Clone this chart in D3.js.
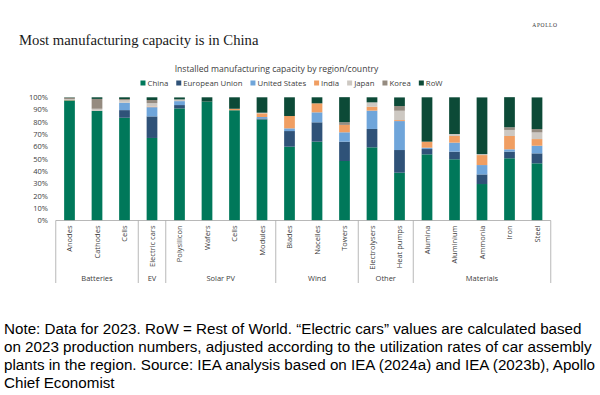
<!DOCTYPE html>
<html>
<head>
<meta charset="utf-8">
<script src="https://cdn.jsdelivr.net/npm/d3@7/dist/d3.min.js"></script>
<style>
  body { margin: 0; background: #fff; }
  svg { display: block; }
  .small { font-family: "Open Sans", "Noto Sans", sans-serif; fill: #404040; }
</style>
</head>
<body>
<div id="chart"></div>
<script>
// categories and groups
const categories = ['Anodes', 'Cathodes', 'Cells', 'Electric cars', 'Polysilicon', 'Wafers', 'Cells', 'Modules',
  'Blades', 'Nacelles', 'Towers', 'Electrolysers', 'Heat pumps', 'Alumina', 'Aluminium', 'Ammonia', 'Iron', 'Steel'];
const groupNames = ['Batteries', 'EV', 'Solar PV', 'Wind', 'Other', 'Materials'];
const groupSizes = [3, 1, 4, 3, 2, 5];

const seriesNames = ['China', 'European Union', 'United States', 'India', 'Japan', 'Korea', 'RoW'];
const seriesColors = ['#00785a', '#2f5278', '#6fa5da', '#f09e62', '#cdc8c2', '#958b80', '#0c4a37'];

// share of capacity, %
const china = [97.5, 89, 83.4, 67, 91, 96.5, 89.5, 82, 59.9, 64, 48.3, 59.4, 38.8, 53.7, 49.7, 29.6, 50.5, 46.4];
const eu    = [0, 0, 6.2, 17.5, 2.7, 0, 0, 0.8, 12.7, 15.7, 15.7, 14.9, 18.4, 4.3, 6.2, 7.8, 5.4, 8.1];
const us    = [0, 0, 6, 7.5, 3.2, 0, 0, 1.2, 2.2, 8.1, 7.6, 14.9, 23.5, 1.1, 7.3, 7.6, 1.9, 6.2];
const india = [0.3, 0, 0, 0.5, 0, 0, 1.2, 3, 10, 7.3, 6, 3.2, 0.8, 4.9, 5.4, 8.1, 10.8, 5.4];
const japan = [0.7, 1.7, 2, 2.8, 1.4, 0, 0, 0.5, 0, 0, 0, 3.5, 7.6, 0, 1.6, 0.8, 4.9, 5.4];
const korea = [1.2, 8, 1, 2.5, 0, 0, 0, 0, 0, 0, 2.2, 0, 3.8, 0, 0, 0, 2.2, 2.7];
const row   = [0.3, 1.3, 1.4, 2.2, 1.6, 3.5, 9.3, 12.5, 15.2, 4.9, 20.3, 4.1, 7, 36, 29.8, 46, 24.4, 25.7];

const yTicks = [0, 10, 20, 30, 40, 50, 60, 70, 80, 90, 100];

const noteLines = [
  'Note: Data for 2023. RoW = Rest of World. \u201cElectric cars\u201d values are calculated based',
  'on 2023 production numbers, adjusted according to the utilization rates of car assembly',
  'plants in the region. Source: IEA analysis based on IEA (2024a) and IEA (2023b), Apollo',
  'Chief Economist'
];

const width = 600, height = 395;
const plotLeft = 55.75, plotRight = 550.75, plotTop = 97.3, plotBottom = 220.5;

const svg = d3.select('#chart').append('svg')
  .attr('width', width)
  .attr('height', height);

// build rows for the stack
const allSeries = [china, eu, us, india, japan, korea, row];
const rows = categories.map((c, i) => {
  let r = { idx: i };
  seriesNames.forEach((s, k) => { r[s] = allSeries[k][i]; });
  return r;
});
const stacked = d3.stack().keys(seriesNames)(rows);

const x = d3.scaleBand()
  .domain(d3.range(categories.length))
  .range([plotLeft, plotRight])
  .paddingInner(0.61)
  .paddingOuter(0.305);

const y = d3.scaleLinear().domain([0, 100]).range([plotBottom, plotTop]);

// headings
svg.append('text')
  .text('APOLLO')
  .attr('x', 545).attr('y', 27)
  .attr('text-anchor', 'middle')
  .attr('font-family', '"Liberation Serif", serif')
  .attr('font-size', '5.5px')
  .attr('letter-spacing', '0.6px')
  .attr('fill', '#333');

svg.append('text')
  .text('Most manufacturing capacity is in China')
  .attr('x', 19).attr('y', 45)
  .attr('font-family', '"Liberation Serif", "DejaVu Serif", serif')
  .attr('font-size', '14.7px')
  .attr('fill', '#1a1a1a');

svg.append('text')
  .attr('class', 'small')
  .text('Installed manufacturing capacity by region/country')
  .attr('x', 276.5).attr('y', 71.5)
  .attr('text-anchor', 'middle')
  .attr('font-size', '8.6px');

// legend
const legend = svg.append('g');
let lx = 0;
seriesNames.forEach((name, k) => {
  const item = legend.append('g').attr('transform', `translate(${lx},0)`);
  item.append('rect')
    .attr('x', 0).attr('y', -5.5)
    .attr('width', 5).attr('height', 5)
    .attr('fill', seriesColors[k]);
  const t = item.append('text')
    .attr('class', 'small')
    .text(name)
    .attr('x', 7).attr('y', 0)
    .attr('font-size', '7.8px');
  lx += 7 + t.node().getComputedTextLength() + 8;
});
legend.attr('transform', `translate(${291.5 - (lx - 8) / 2},86)`);

// bars
svg.append('g')
  .selectAll('g')
  .data(stacked)
  .join('g')
  .attr('fill', (d, k) => seriesColors[k])
  .selectAll('rect')
  .data(d => d)
  .join('rect')
  .attr('x', d => x(d.data.idx))
  .attr('width', x.bandwidth())
  .attr('y', d => y(d[1]))
  .attr('height', d => Math.max(0, y(d[0]) - y(d[1])));

// y axis labels
svg.append('g')
  .selectAll('text')
  .data(yTicks)
  .join('text')
  .attr('class', 'small')
  .text(d => d + '%')
  .attr('x', 48)
  .attr('y', d => y(d) + 2.7)
  .attr('text-anchor', 'end')
  .attr('font-size', '7.5px');

// x axis line
svg.append('line')
  .attr('x1', plotLeft).attr('x2', plotRight)
  .attr('y1', plotBottom).attr('y2', plotBottom)
  .attr('stroke', '#a6a6a6')
  .attr('stroke-width', 0.8);

// category labels (rotated)
svg.append('g')
  .selectAll('text')
  .data(categories)
  .join('text')
  .attr('class', 'small')
  .text(d => d)
  .attr('transform', (d, i) => `translate(${x(i) + x.bandwidth() / 2 + 2.7},${plotBottom + 5}) rotate(-90)`)
  .attr('text-anchor', 'end')
  .attr('font-size', '7.5px');

// group separators and labels
const step = x.step();
let start = 0;
const bounds = [0];
groupSizes.forEach(n => { start += n; bounds.push(start); });

svg.append('g')
  .selectAll('line')
  .data(bounds)
  .join('line')
  .attr('x1', b => plotLeft + b * step)
  .attr('x2', b => plotLeft + b * step)
  .attr('y1', plotBottom)
  .attr('y2', 283)
  .attr('stroke', '#a6a6a6')
  .attr('stroke-width', 0.8);

svg.append('g')
  .selectAll('text')
  .data(groupNames)
  .join('text')
  .attr('class', 'small')
  .text(d => d)
  .attr('x', (d, g) => plotLeft + (bounds[g] + bounds[g + 1]) / 2 * step)
  .attr('y', 281)
  .attr('text-anchor', 'middle')
  .attr('font-size', '7.5px');

// note
svg.append('g')
  .selectAll('text')
  .data(noteLines)
  .join('text')
  .text(d => d)
  .attr('x', 4)
  .attr('y', (d, i) => 334 + i * 18)
  .attr('font-family', '"Liberation Sans", Arial, sans-serif')
  .attr('font-size', '15.2px')
  .attr('fill', '#000');
</script>
</body>
</html>
